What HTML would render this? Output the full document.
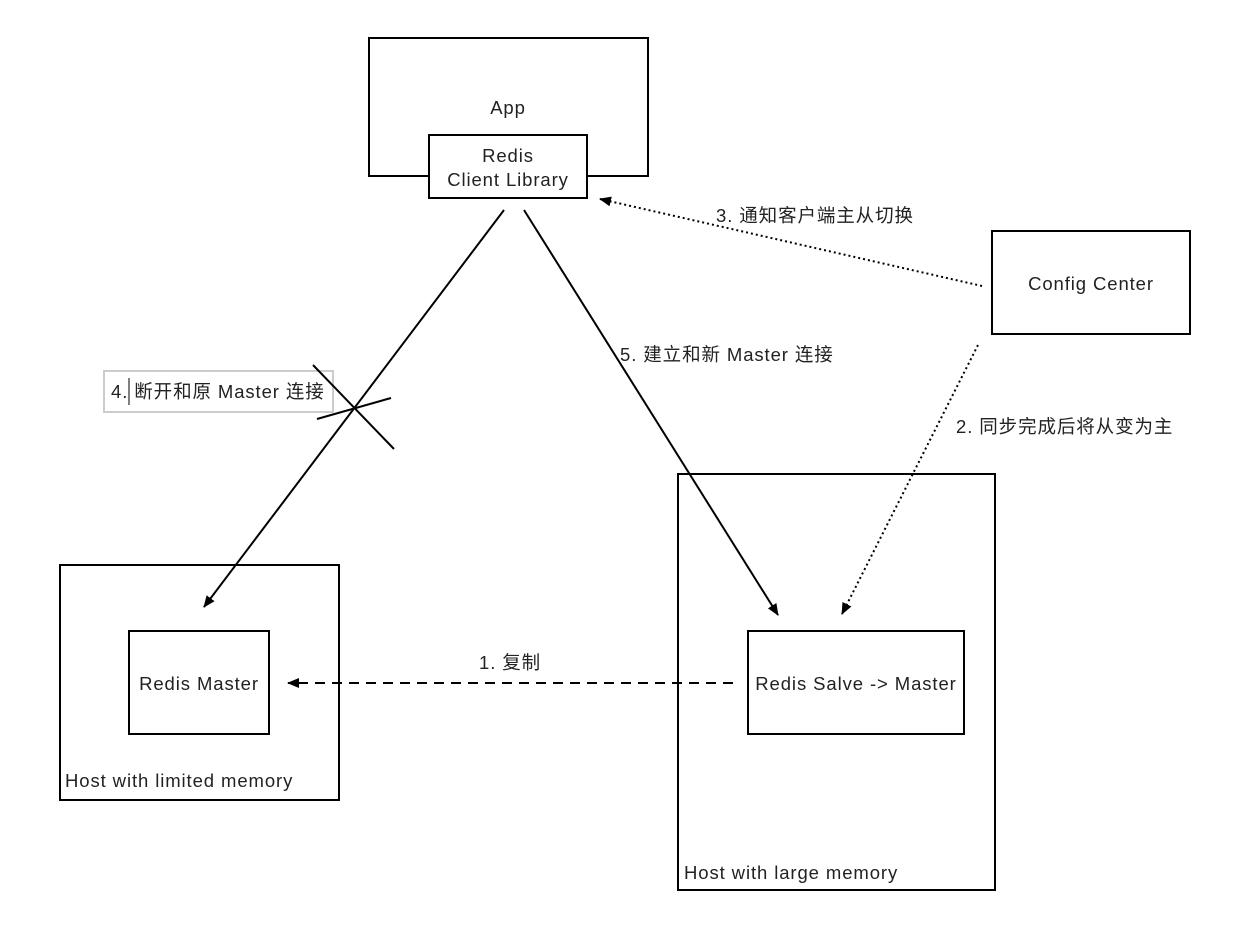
<!DOCTYPE html>
<html><head><meta charset="utf-8"><style>
html,body{margin:0;padding:0;background:#fff;}
svg{display:block;}
text{font-family:"Liberation Sans","Noto Sans CJK SC",sans-serif;font-size:18.5px;letter-spacing:0.9px;fill:#222;}
</style></head><body>
<svg width="1240" height="948" viewBox="0 0 1240 948" xmlns="http://www.w3.org/2000/svg">
<defs>
<marker id="a" markerWidth="12" markerHeight="10" refX="11" refY="5" orient="auto" markerUnits="userSpaceOnUse">
<path d="M0,0 L12,5 L0,10 z" fill="#000"/>
</marker>
</defs>
<rect x="104" y="371" width="229" height="41" fill="#fff" stroke="#ccc" stroke-width="2"/>
<line x1="129" y1="378" x2="129" y2="405" stroke="#000" stroke-width="1"/>
<g fill="none" stroke="#000" stroke-width="2">
<rect x="369" y="38" width="279" height="138"/>
<rect x="429" y="135" width="158" height="63" fill="#fff"/>
<rect x="992" y="231" width="198" height="103"/>
<rect x="60" y="565" width="279" height="235"/>
<rect x="129" y="631" width="140" height="103"/>
<rect x="678" y="474" width="317" height="416"/>
<rect x="748" y="631" width="216" height="103"/>
</g>
<g stroke="#000" stroke-width="2" fill="none">
<line x1="504" y1="210" x2="204" y2="607" marker-end="url(#a)"/>
<line x1="524" y1="210" x2="778" y2="615" marker-end="url(#a)"/>
<line x1="982" y1="286" x2="600" y2="199" stroke-dasharray="2,3" marker-end="url(#a)"/>
<line x1="978" y1="345" x2="842" y2="614" stroke-dasharray="2,3" marker-end="url(#a)"/>
<line x1="733" y1="683" x2="288" y2="683" stroke-dasharray="10,7" marker-end="url(#a)"/>
<line x1="313" y1="365" x2="394" y2="449"/>
<line x1="317" y1="419" x2="391" y2="398"/>
</g>
<text x="508" y="114" text-anchor="middle">App</text>
<text x="508" y="162" text-anchor="middle">Redis</text>
<text x="508" y="186" text-anchor="middle">Client Library</text>
<text x="1091" y="290" text-anchor="middle">Config Center</text>
<text x="199" y="690" text-anchor="middle">Redis Master</text>
<text x="856" y="690" text-anchor="middle">Redis Salve -&gt; Master</text>
<text x="65" y="787">Host with limited memory</text>
<text x="684" y="879">Host with large memory</text>
<text x="716" y="222">3. 通知客户端主从切换</text>
<text x="620" y="361">5. 建立和新 Master 连接</text>
<text x="956" y="433">2. 同步完成后将从变为主</text>
<text x="479" y="669">1. 复制</text>
<text x="111" y="398">4. 断开和原 Master 连接</text>
</svg>
</body></html>
